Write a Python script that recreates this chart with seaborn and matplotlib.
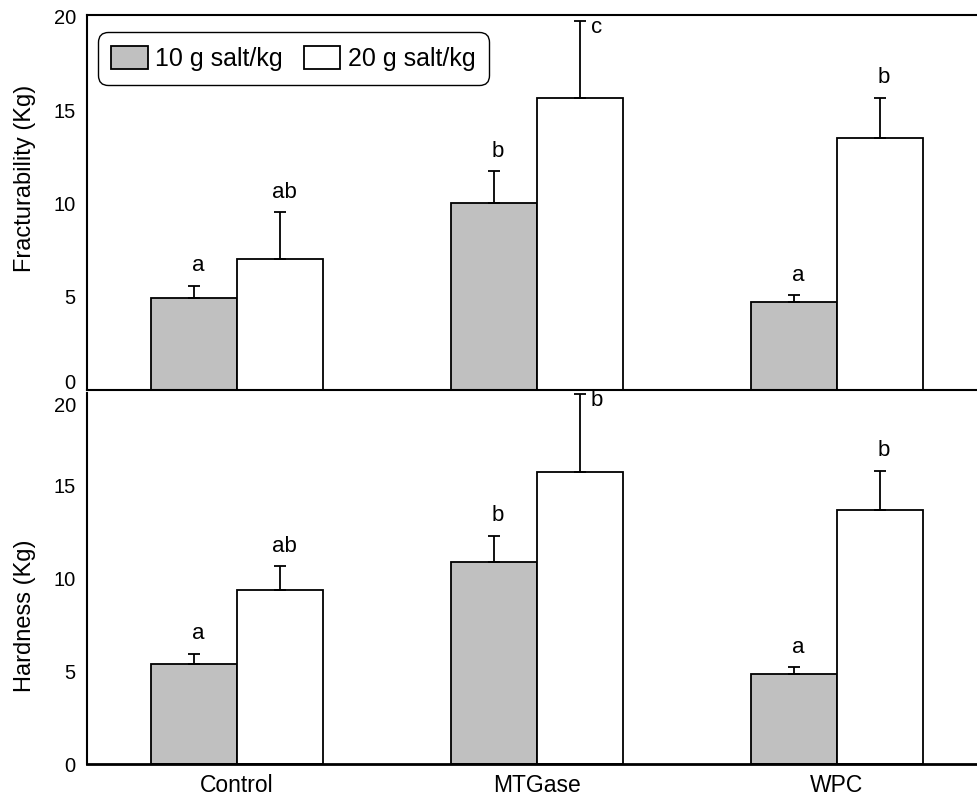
import numpy as np
import pandas as pd
import matplotlib
matplotlib.use("Agg")
import matplotlib.pyplot as plt
import seaborn as sns
from matplotlib.transforms import ScaledTranslation

# ---- data ----
treatments = ["Control", "MTGase", "WPC"]
salt_levels = ["10 g salt/kg", "20 g salt/kg"]

frac_10 = [4.95, 10.03, 4.71]
frac_10_err = [0.65, 1.69, 0.36]
frac_20 = [7.04, 15.65, 13.49]
frac_20_err = [2.48, 4.15, 2.16]
frac_letters_10 = ["a", "b", "a"]
frac_letters_20 = ["ab", "c", "b"]

hard_10 = [5.40, 10.90, 4.86]
hard_10_err = [0.55, 1.40, 0.36]
hard_20 = [9.40, 15.75, 13.70]
hard_20_err = [1.27, 4.20, 2.10]
hard_letters_10 = ["a", "b", "a"]
hard_letters_20 = ["ab", "b", "b"]

sns.set_style("white")
plt.rcParams["font.family"] = ["Liberation Sans", "DejaVu Sans"]
plt.rcParams["text.color"] = "black"
plt.rcParams["axes.labelcolor"] = "black"
plt.rcParams["xtick.color"] = "black"
plt.rcParams["ytick.color"] = "black"

fig = plt.figure(figsize=(9.77, 7.99), dpi=100)
ax_top = fig.add_axes([0.089, 0.5119, 0.911, 0.4693])
ax_bot = fig.add_axes([0.089, 0.0438, 0.911, 0.4643])

bar_colors = ["#c0c0c0", "#ffffff"]


def draw_panel(ax, v10, e10, v20, e20, l10, l20, ymax):
    df = pd.DataFrame({
        "treatment": treatments * 2,
        "salt": [salt_levels[0]] * 3 + [salt_levels[1]] * 3,
        "value": v10 + v20,
    })
    sns.barplot(data=df, x="treatment", y="value", hue="salt",
                order=treatments, hue_order=salt_levels, palette=bar_colors,
                edgecolor="black", linewidth=1.3, width=0.573, gap=0,
                errorbar=None, legend=False, saturation=1, ax=ax)

    for cont, errs, letters in zip(ax.containers, [e10, e20], [l10, l20]):
        for bar, err, let in zip(cont.patches, errs, letters):
            x = bar.get_x() + bar.get_width() / 2
            top = bar.get_height()
            ax.errorbar(x, top, yerr=[[0], [err]], fmt="none", ecolor="black",
                        elinewidth=1.3, capsize=4.2, capthick=1.3, zorder=3,
                        clip_on=False)
            cap = top + err
            if cap > ymax - 1.0:
                # letter beside the cap when there is no room above
                ax.annotate(let, (x, cap), xytext=(8, -5), textcoords="offset points",
                            ha="left", va="center", fontsize=16)
            else:
                ax.annotate(let, (x, cap), xytext=(3, 10.5), textcoords="offset points",
                            ha="center", va="baseline", fontsize=16)

    ax.set_xlim(-0.5, 2.467)
    ax.set_ylim(0, ymax)
    ax.set_yticks([0, 5, 10, 15, 20])
    ax.set_xticks([0, 1, 2])
    ax.set_xticks([0.5, 1.5], minor=True)
    ax.tick_params(axis="y", direction="in", length=3.6, width=1, labelsize=14.5, pad=8)
    ax.tick_params(axis="x", which="major", length=0, labelsize=16.5, pad=7)
    ax.tick_params(axis="x", which="minor", direction="in", length=5, width=1)
    ax.set_xlabel("")
    for side in ["left", "bottom", "top"]:
        ax.spines[side].set_linewidth(1.5)
        ax.spines[side].set_color("black")
    ax.spines["right"].set_visible(False)


draw_panel(ax_top, frac_10, frac_10_err, frac_20, frac_20_err,
           frac_letters_10, frac_letters_20, 20.1)
draw_panel(ax_bot, hard_10, hard_10_err, hard_20, hard_20_err,
           hard_letters_10, hard_letters_20, 20.0)

ax_top.set_xticklabels([])
ax_bot.spines["top"].set_visible(False)
ax_bot.spines["bottom"].set_linewidth(2)

ax_top.set_ylabel("Fracturability (Kg)", fontsize=17)
ax_top.yaxis.set_label_coords(-0.057, 0.565)
ax_bot.set_ylabel("Hardness (Kg)", fontsize=17)
ax_bot.yaxis.set_label_coords(-0.057, 0.40)

# nudge the crowded "0" / "20" labels apart at the panel join
lab0 = ax_top.get_yticklabels()[0]
lab0.set_transform(lab0.get_transform() + ScaledTranslation(0, 6 / 72, fig.dpi_scale_trans))
lab20 = ax_bot.get_yticklabels()[-1]
lab20.set_transform(lab20.get_transform() + ScaledTranslation(0, -8.5 / 72, fig.dpi_scale_trans))

handles = [ax_top.containers[0], ax_top.containers[1]]
leg = ax_top.legend(handles, salt_levels, loc="upper left", bbox_to_anchor=(0.012, 0.955),
                    borderaxespad=0, ncol=2, fontsize=18, frameon=True, fancybox=True,
                    handlelength=1.45, handleheight=1.05, handletextpad=0.3,
                    columnspacing=0.85, borderpad=0.55, framealpha=1)
leg.get_frame().set_edgecolor("black")
leg.get_frame().set_linewidth(1.0)
leg.legendPatch.set_boxstyle("round", pad=0, rounding_size=0.4)

fig.savefig("out.png", dpi=100)
